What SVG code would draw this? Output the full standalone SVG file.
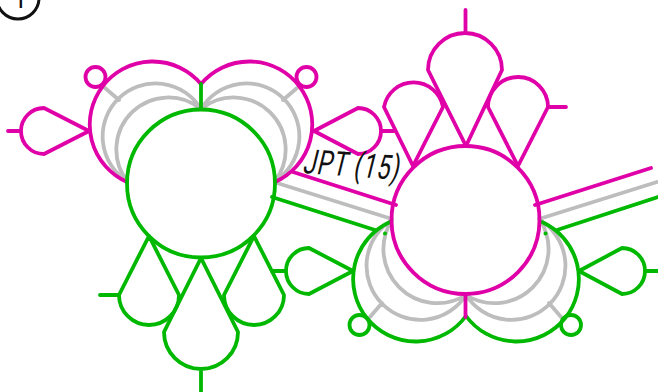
<svg xmlns="http://www.w3.org/2000/svg" width="658" height="392" viewBox="0 0 658 392">
<style>
.m,.g,.y,.k{fill:none;stroke-width:3.800;stroke-linecap:round;stroke-linejoin:round}
.m{stroke:#e000a8}.g{stroke:#00b800}.y{stroke:#bdbdbd}.k{stroke:#111;stroke-width:3}
.d{fill:#00b800}
text{font-family:Roboto,"Liberation Sans",sans-serif;fill:#111}
</style>
<g id="connectors">
<path class="y" d="M277 183L392 219M539 219L657 182"/>
<path class="g" d="M272 197L375 230M557 230L658 197"/>
<path class="m" d="M293 172L396 205M535 205L651 168"/>
<path class="y" d="M127 181A53 53 0 1 1 201 109A53 53 0 1 1 275 181M127 181A52 52 0 0 1 201 109A52 52 0 0 1 275 181M105 88L119 100M297 88L283 100"/>
<path class="y" d="M392 220A54 54 0 1 0 466 295A54 54 0 1 0 540 220M392 220A54 54 0 0 0 466 295A54 54 0 0 0 540 220M370 317L382 303M561 317L549 303"/>
</g>
<g id="node-1">
<path class="m" d="M127 182A63 63 0 1 1 201 84A63 63 0 1 1 275 182"/>
<path class="g" d="M201 84V109"/>
<circle class="g" cx="201" cy="183.500" r="74"/>
<circle class="m" cx="95.500" cy="77" r="10"/>
<circle class="m" cx="306.500" cy="77" r="10"/>
<path class="m" d="M89 131L44 108A23 23 0 0 0 44 154ZM8 131H21"/>
<path class="m" d="M314 131L358 108A23 23 0 0 1 358 154ZM381 131H394"/>
<path class="g" d="M149 236L119 295A30 30 0 0 0 179 295ZM100 295H119"/>
<path class="g" d="M254 236L224 295A30 30 0 0 0 284 295Z"/>
<path class="g" d="M201 258L164 332A37 37 0 0 0 238 332ZM201 369V392"/>
</g>
<g id="node-2">
<path class="g" d="M390 222A62.500 62.500 0 1 0 466 316A62.500 62.500 0 1 0 542 222"/>
<path class="m" d="M465.500 294V317"/>
<circle class="m" cx="465.500" cy="220" r="74"/>
<circle class="g" cx="359.500" cy="325" r="10"/>
<circle class="g" cx="571" cy="325" r="10"/>
<path class="g" d="M353 271L309 248A23 23 0 0 0 309 294ZM272 271H286"/>
<path class="g" d="M579 271L622 248A23 23 0 0 1 622 294ZM645 271H658"/>
<circle class="d" cx="385" cy="233.500" r="2"/>
<circle class="d" cx="545.500" cy="233.500" r="2"/>
<path class="m" d="M413 166L384 107A30 30 0 0 1 443 107Z"/>
<path class="m" d="M518 166L488 107A30 30 0 0 1 548 107ZM548 107H566"/>
<path class="m" d="M466 146L428 70A37 37 0 0 1 502 70ZM465.500 33V10"/>
</g>
<g id="node-3"><circle class="k" cx="18" cy="-2" r="21"/><text x="20" y="8" font-size="26" text-anchor="middle">1</text></g>
<text id="label" transform="translate(302 173) rotate(4) skewX(-10) scale(.7 1)" font-size="34" textLength="137" lengthAdjust="spacing">JPT (15)</text>
</svg>
